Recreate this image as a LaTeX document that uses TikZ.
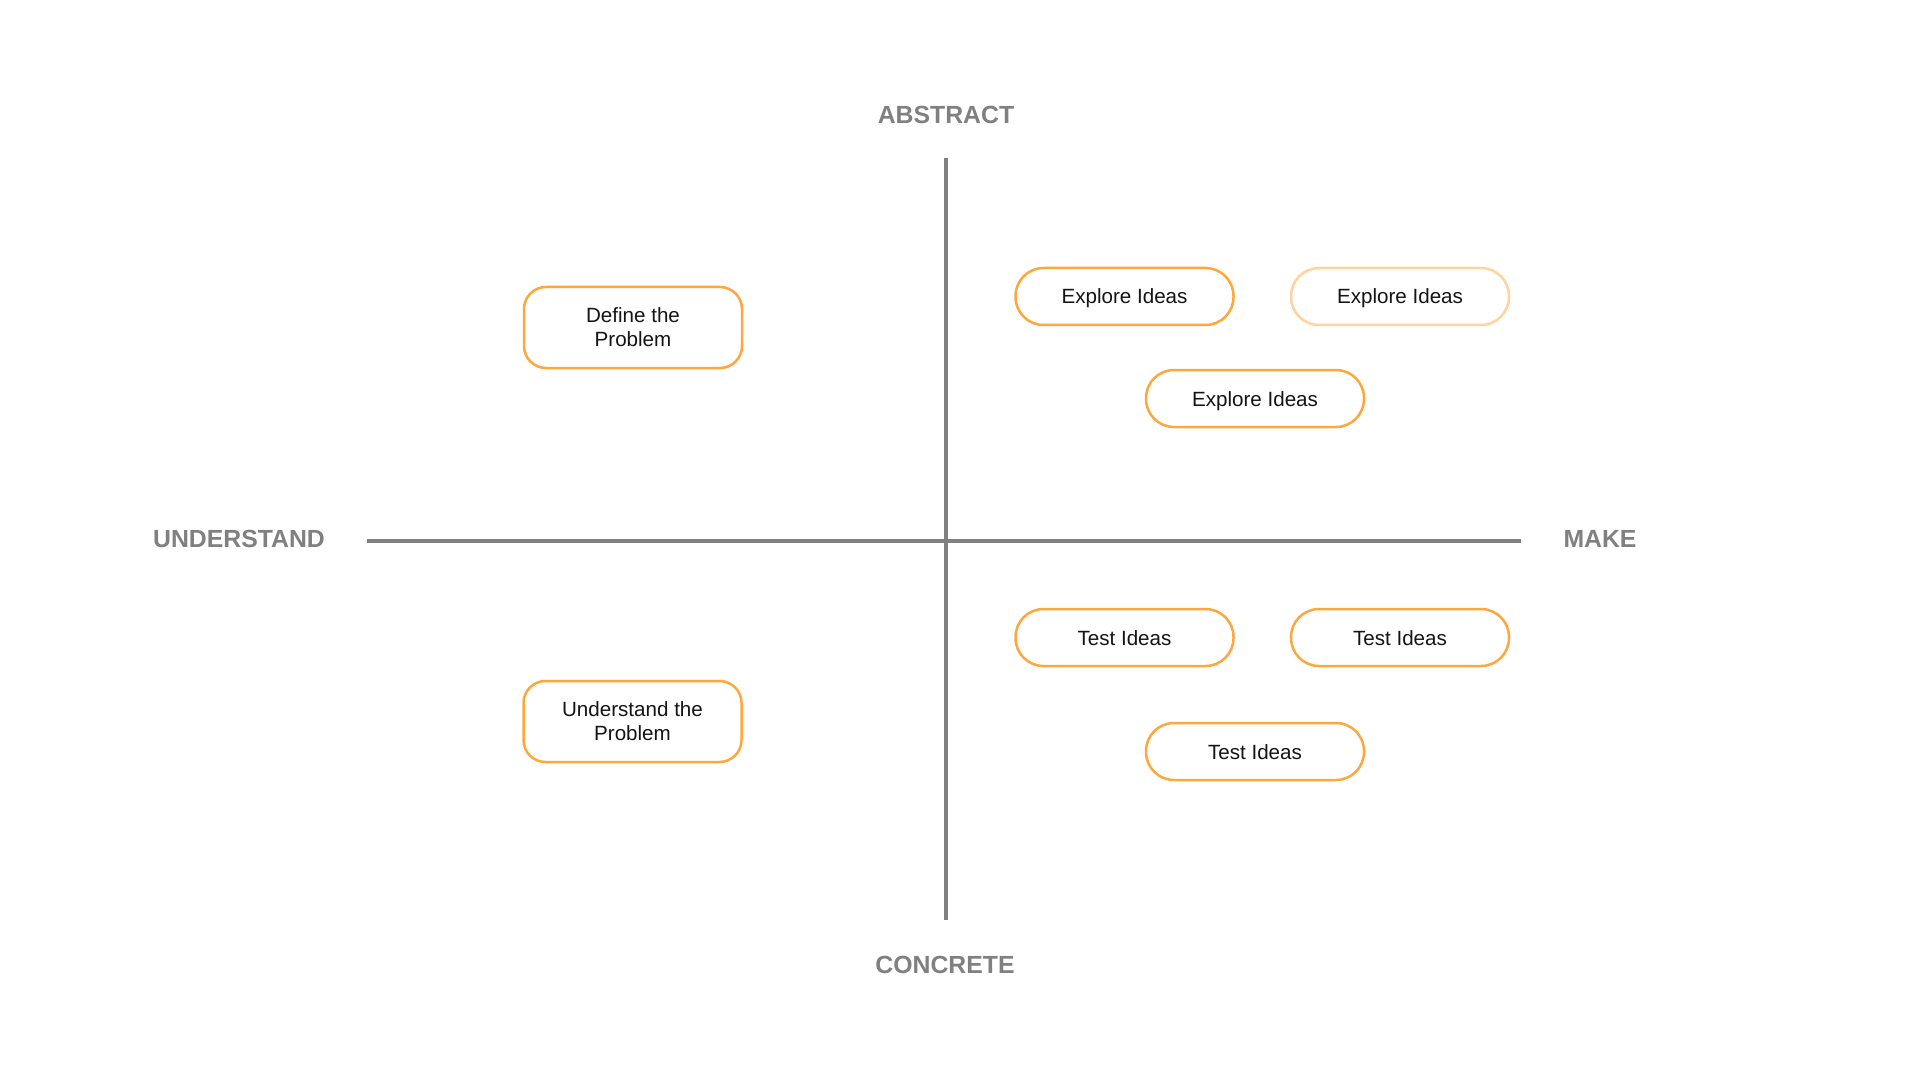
\documentclass[tikz,border=0pt]{standalone}
\usepackage{fontspec}
\setmainfont{Liberation Sans}
\definecolor{axisgrey}{HTML}{808080}
\definecolor{boxorange}{HTML}{FFA63D}
\definecolor{boxlight}{HTML}{FFD29E}
\tikzset{
  axislabel/.style={text=axisgrey,font=\fontsize{12.4}{14}\selectfont\bfseries},
  boxbase/.style={draw=boxorange,line width=1.25pt,inner sep=0pt,
    minimum width=109pt,font=\fontsize{10.3}{12}\selectfont,text=black!92},
  pill/.style={boxbase,rounded corners=14pt,minimum height=28.5pt,
    text height=7.5pt,text depth=0pt},
  twoline/.style={boxbase,rounded corners=11pt,minimum height=40.5pt,align=center}
}
\begin{document}
\begin{tikzpicture}[x=0.5pt,y=-0.5pt]
\useasboundingbox (0,0) rectangle (1920,1080);
% axes
\coordinate (top) at (946,158);
\coordinate (bot) at (946,920);
\coordinate (lft) at (367,541);
\coordinate (rgt) at (1521,541);
\draw[axisgrey,line width=2pt] (top)--(bot);
\draw[axisgrey,line width=2pt] (lft)--(rgt);
\node[axislabel] (abstract) at (946,115) {ABSTRACT};
\node[axislabel] (concrete) at (945,965) {CONCRETE};
\node[axislabel] (understandlbl) at (239,539) {UNDERSTAND};
\node[axislabel] (make) at (1600,539) {MAKE};
% boxes
\node[twoline] (define) at (633,327.5) {Define the\\Problem};
\node[twoline] (understand) at (632.5,721.5) {Understand the\\Problem};
\node[pill] (exA) at (1124.5,296.5) {Explore Ideas};
\node[pill,draw=boxlight] (exB) at (1400,296.5) {Explore Ideas};
\node[pill] (exC) at (1255,398.5) {Explore Ideas};
\node[pill] (testA) at (1124.5,637.5) {Test Ideas};
\node[pill] (testB) at (1400,637.5) {Test Ideas};
\node[pill] (testC) at (1255,751.5) {Test Ideas};
\end{tikzpicture}
\end{document}
